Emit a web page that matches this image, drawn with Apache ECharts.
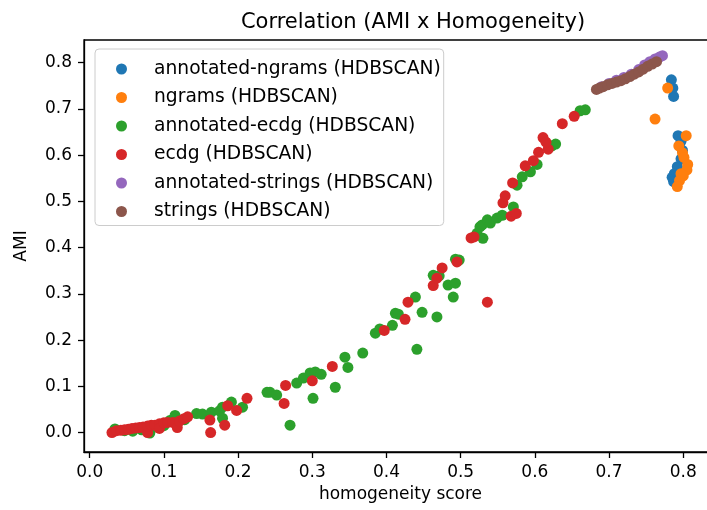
<!DOCTYPE html>
<html>
<head>
<meta charset="utf-8">
<script src="https://cdn.jsdelivr.net/npm/echarts@6/dist/echarts.min.js"></script>
<style>
html,body{margin:0;padding:0;background:#fff;}
#c{width:707px;height:510px;}
</style>
</head>
<body>
<div id="c"></div>
<script>
// ---- data (homogeneity score, AMI) ----
const seriesNames = [
  'annotated-ngrams (HDBSCAN)', 'ngrams (HDBSCAN)', 'annotated-ecdg (HDBSCAN)',
  'ecdg (HDBSCAN)', 'annotated-strings (HDBSCAN)', 'strings (HDBSCAN)'
];
const annotatedNgrams = [
  [0.784,0.763],[0.787,0.727],[0.786,0.745],[0.793,0.642],[0.797,0.630],[0.799,0.610],
  [0.797,0.592],[0.792,0.575],[0.788,0.560],[0.785,0.552],[0.787,0.543]
];
const ngrams = [
  [0.779,0.745],[0.762,0.678],[0.804,0.642],[0.794,0.620],[0.799,0.605],[0.801,0.595],
  [0.806,0.580],[0.805,0.568],[0.800,0.555],[0.795,0.545],[0.792,0.532],[0.797,0.560]
];
const annotatedEcdg = [
  [0.034,0.008],[0.047,0.004],[0.058,0.003],[0.070,0.006],[0.081,-0.001],[0.090,0.012],
  [0.100,0.015],[0.108,0.026],[0.115,0.037],[0.128,0.028],[0.144,0.041],[0.152,0.040],
  [0.164,0.044],[0.175,0.047],[0.179,0.031],[0.179,0.055],[0.191,0.066],[0.206,0.055],
  [0.239,0.087],[0.243,0.087],[0.252,0.081],[0.270,0.016],[0.279,0.107],[0.288,0.118],
  [0.297,0.129],[0.301,0.074],[0.304,0.131],[0.312,0.126],[0.331,0.098],[0.344,0.163],
  [0.348,0.141],[0.368,0.172],[0.385,0.215],[0.391,0.224],[0.408,0.232],[0.412,0.258],
  [0.416,0.256],[0.439,0.293],[0.441,0.180],[0.448,0.260],[0.463,0.340],[0.468,0.250],
  [0.471,0.339],[0.483,0.319],[0.490,0.293],[0.493,0.323],[0.493,0.375],[0.498,0.373],
  [0.522,0.431],[0.526,0.445],[0.530,0.420],[0.529,0.449],[0.536,0.460],[0.540,0.453],
  [0.549,0.464],[0.556,0.470],[0.571,0.488],[0.576,0.535],[0.583,0.553],[0.594,0.564],
  [0.603,0.580],[0.623,0.620],[0.628,0.624],[0.661,0.696],[0.668,0.698]
];
const ecdg = [
  [0.030,0.000],[0.036,0.004],[0.042,0.005],[0.047,0.006],[0.052,0.007],[0.057,0.009],
  [0.062,0.010],[0.067,0.011],[0.072,0.012],[0.078,0.000],[0.078,0.014],[0.083,0.016],
  [0.088,0.016],[0.094,0.019],[0.094,0.009],[0.100,0.021],[0.105,0.022],[0.112,0.022],
  [0.118,0.011],[0.121,0.025],[0.127,0.030],[0.132,0.034],[0.162,0.027],[0.163,0.000],
  [0.182,0.016],[0.186,0.058],[0.198,0.048],[0.212,0.074],[0.262,0.063],[0.264,0.102],
  [0.300,0.112],[0.327,0.143],[0.397,0.221],[0.425,0.245],[0.429,0.282],[0.463,0.318],
  [0.468,0.334],[0.475,0.356],[0.495,0.369],[0.514,0.421],[0.518,0.423],[0.536,0.282],
  [0.557,0.497],[0.560,0.512],[0.568,0.468],[0.575,0.474],[0.570,0.540],[0.587,0.577],
  [0.598,0.588],[0.605,0.606],[0.611,0.638],[0.618,0.613],[0.615,0.628],[0.637,0.668],
  [0.653,0.684]
];
const annotatedStrings = [
  [0.690,0.748],[0.700,0.755],[0.710,0.762],[0.720,0.768],[0.730,0.775],[0.740,0.785],
  [0.748,0.795],[0.755,0.802],[0.762,0.808],[0.768,0.812],[0.772,0.815]
];
const strings = [
  [0.683,0.742],[0.687,0.745],[0.692,0.748],[0.698,0.752],[0.704,0.755],[0.710,0.758],
  [0.716,0.761],[0.722,0.765],[0.728,0.770],[0.734,0.775],[0.740,0.780],[0.746,0.786],
  [0.752,0.792],[0.758,0.797],[0.764,0.802]
];
const xTicks = [0.0,0.1,0.2,0.3,0.4,0.5,0.6,0.7,0.8];
const yTicks = [0.0,0.1,0.2,0.3,0.4,0.5,0.6,0.7,0.8];
const colors = ['#1f77b4','#ff7f0e','#2ca02c','#d62728','#9467bd','#8c564b'];
const allData = [annotatedNgrams, ngrams, annotatedEcdg, ecdg, annotatedStrings, strings];

const FONT = 'DejaVu Sans';
const chart = echarts.init(document.getElementById('c'), null, {renderer: 'canvas'});
const axisCommon = {
  type: 'value',
  axisLine: {show: true, onZero: false, lineStyle: {color: '#000', width: 1.3}},
  axisTick: {show: true, inside: false, length: 6, lineStyle: {color: '#000', width: 1.3}},
  axisLabel: {color: '#000', fontFamily: FONT, fontSize: 17, margin: 12,
              formatter: v => Number(v).toFixed(1)},
  splitLine: {show: false},
  nameTextStyle: {color: '#000', fontFamily: FONT, fontSize: 17},
  nameLocation: 'middle'
};
chart.setOption({
  animation: false,
  backgroundColor: '#fff',
  title: {
    text: 'Correlation (AMI x Homogeneity)',
    left: 408, top: 7, textAlign: 'center',
    textStyle: {color: '#000', fontFamily: FONT, fontSize: 21, fontWeight: 'normal'}
  },
  grid: {left: 84, right: -10, top: 40, bottom: 58, show: true, borderColor: '#000', borderWidth: 1.3,
         containLabel: false, outerBoundsMode: 'none'},
  legend: {
    orient: 'vertical', left: 95, top: 49,
    padding: [10, 3, 4, 21],
    itemWidth: 25, itemHeight: 11, itemGap: 8.5,
    icon: 'circle',
    backgroundColor: 'rgba(255,255,255,0.8)',
    borderColor: '#cccccc', borderWidth: 1, borderRadius: 4,
    textStyle: {color: '#000', fontFamily: FONT, fontSize: 18.7, lineHeight: 20, padding: [0,0,0,15]},
    data: seriesNames
  },
  xAxis: Object.assign({}, axisCommon, {
    min: -0.0077, max: 0.8455,
    name: 'homogeneity score', nameGap: 34,
    axisTick: Object.assign({}, axisCommon.axisTick, {customValues: xTicks}),
    axisLabel: Object.assign({}, axisCommon.axisLabel, {customValues: xTicks})
  }),
  yAxis: Object.assign({}, axisCommon, {
    min: -0.042, max: 0.849,
    name: 'AMI', nameGap: 54, nameRotate: 90,
    axisTick: Object.assign({}, axisCommon.axisTick, {customValues: yTicks}),
    axisLabel: Object.assign({}, axisCommon.axisLabel, {customValues: yTicks})
  }),
  series: seriesNames.map((n, i) => ({
    name: n, type: 'scatter', data: allData[i],
    symbol: 'circle', symbolSize: 11,
    itemStyle: {color: colors[i], opacity: 1},
    emphasis: {disabled: true}
  }))
});
</script>
</body>
</html>
